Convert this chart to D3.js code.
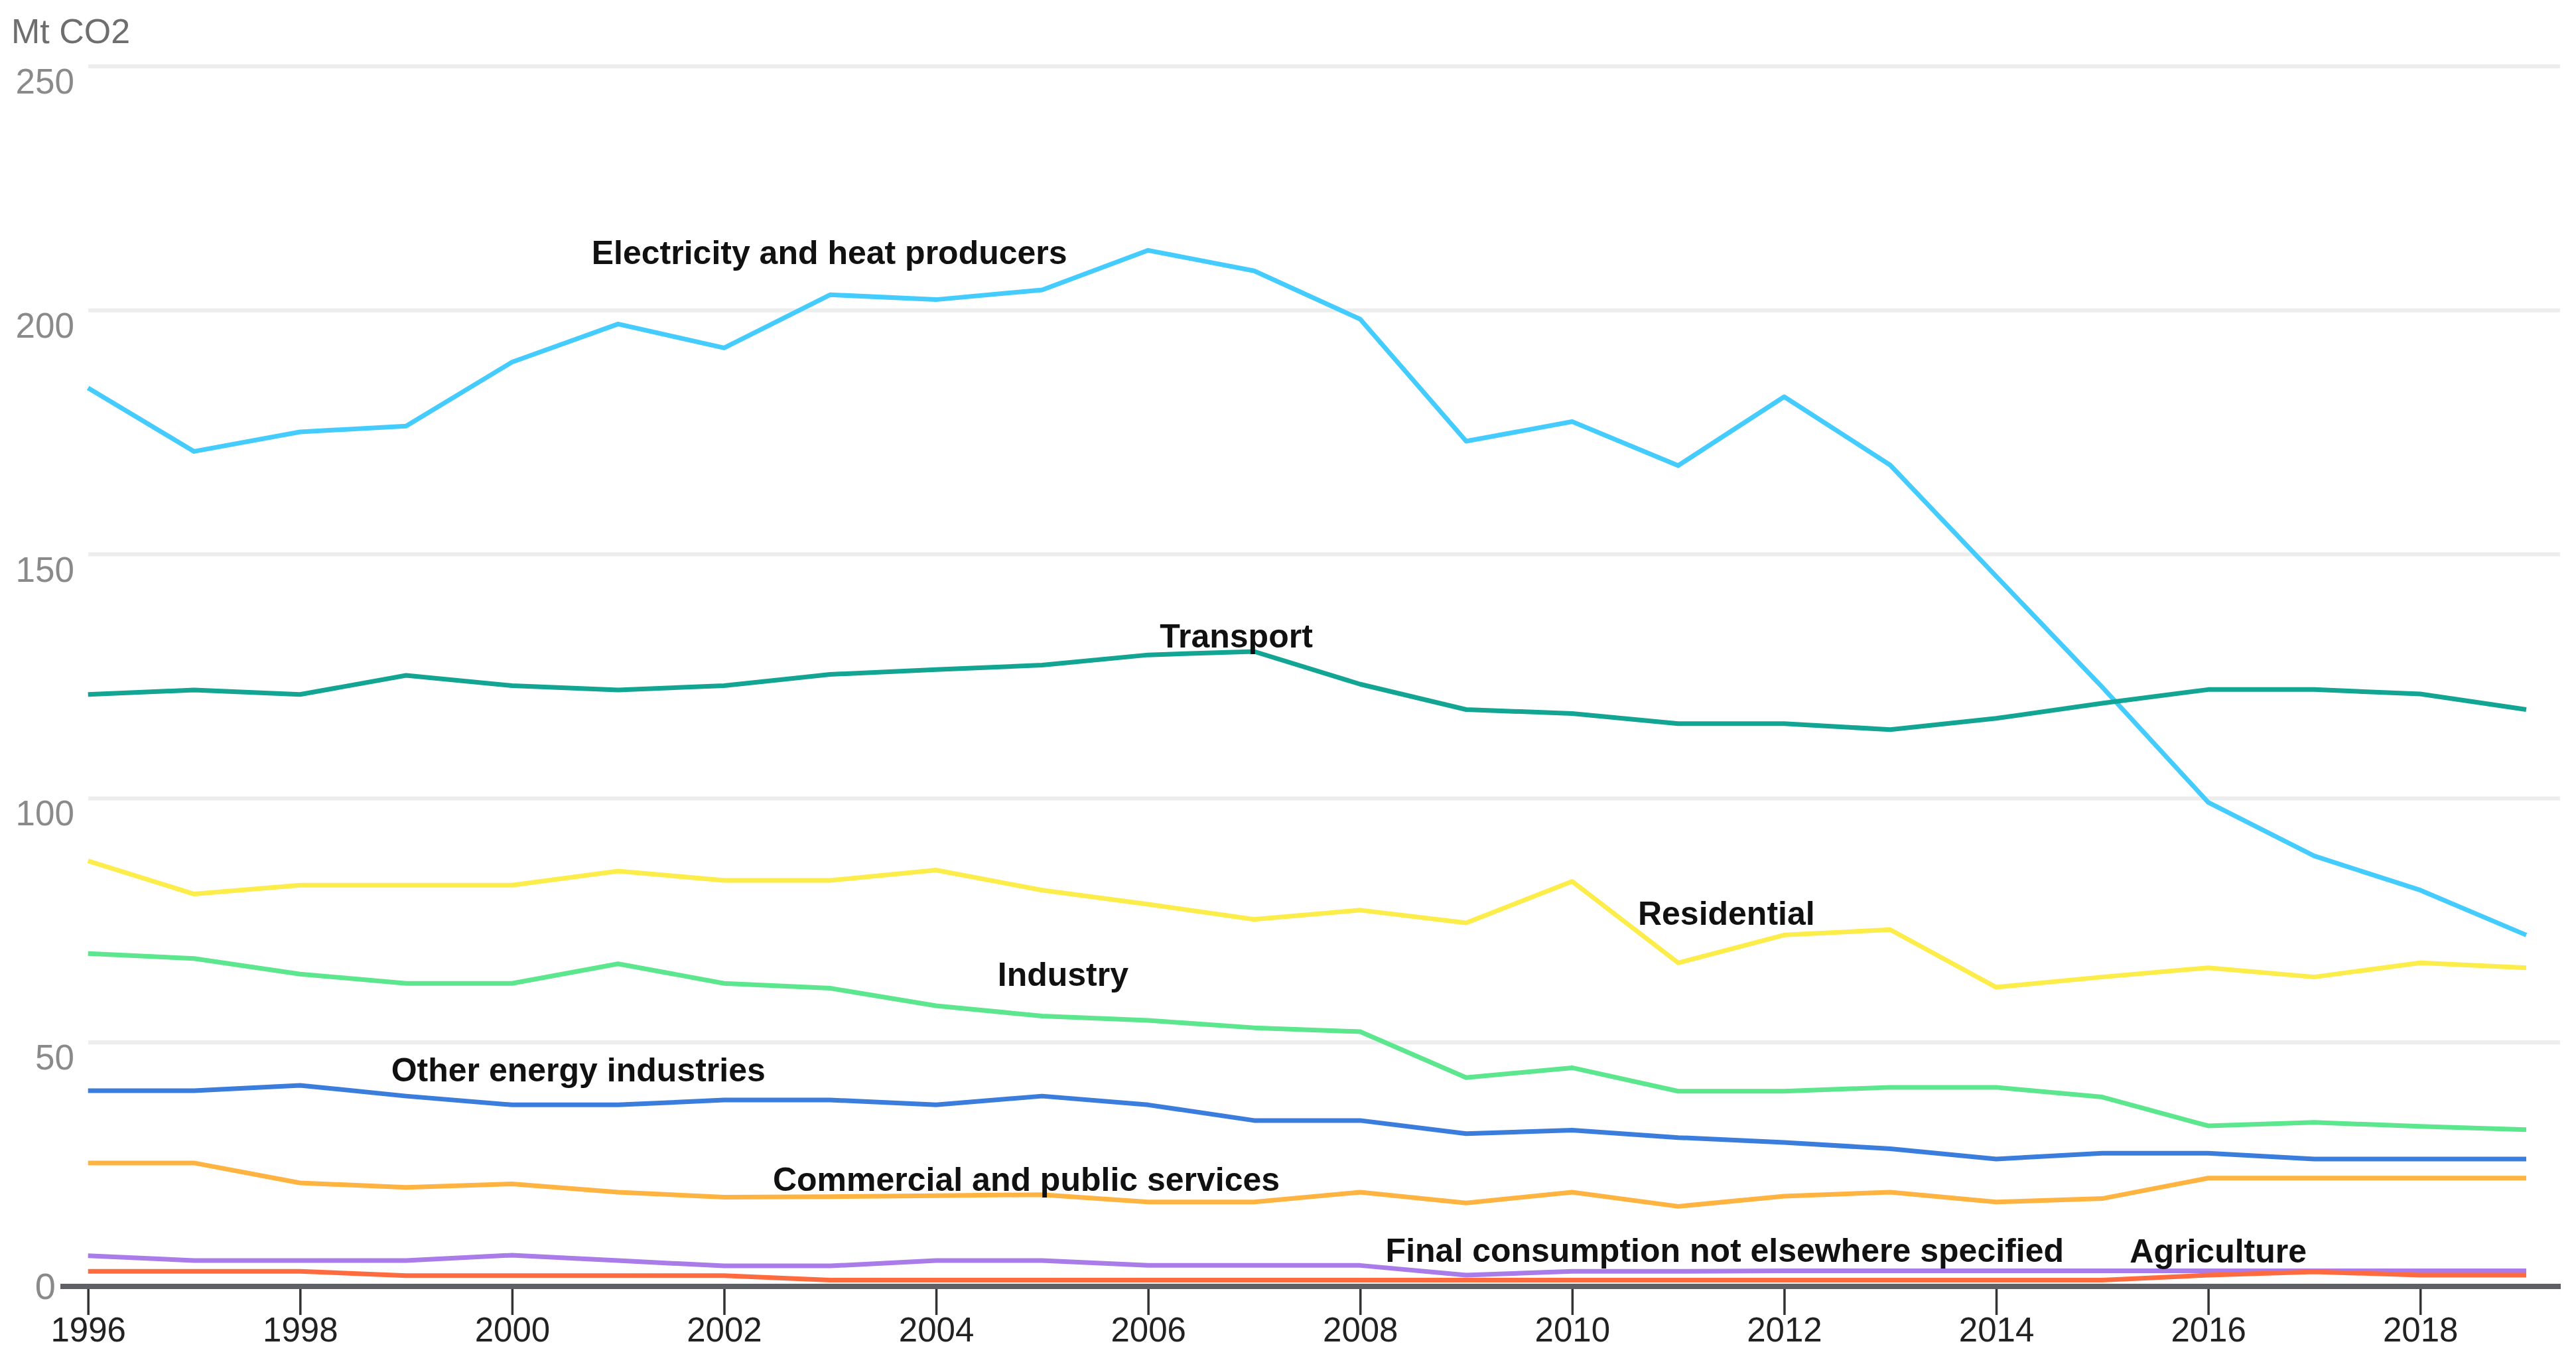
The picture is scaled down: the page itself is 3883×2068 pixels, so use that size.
<!DOCTYPE html>
<html lang="en">
<head>
    <meta charset="UTF-8">
    <title>CO2 emissions by sector</title>
    <style>
        body {
            margin: 0;
            padding: 0;
            background: #ffffff;
        }
        #chart svg {
            display: block;
        }
    </style>
</head>
<body>
    <div id="chart"></div>
    <script src="https://d3js.org/d3.v7.min.js"></script>
    <script>
        // Data
        const years = d3.range(1996, 2020);
        const yTicks = [0, 50, 100, 150, 200, 250];
        const xTicks = d3.range(1996, 2019, 2);

        const electricity = [184.1, 171.1, 175.1, 176.3, 189.4, 197.2, 192.3, 203.2, 202.2, 204.2, 212.3, 208.1,
                             198.2, 173.2, 177.2, 168.2, 182.3, 168.3, 145.5, 122.8, 99.2, 88.2, 81.2, 72.0];
        const transport = [121.3, 122.2, 121.3, 125.2, 123.1, 122.2, 123.1, 125.4, 126.4, 127.3, 129.4, 130.1,
                           123.4, 118.2, 117.4, 115.3, 115.3, 114.1, 116.4, 119.5, 122.3, 122.3, 121.4, 118.2];
        const residential = [87.2, 80.4, 82.2, 82.2, 82.2, 85.1, 83.2, 83.2, 85.3, 81.2, 78.3, 75.2,
                             77.1, 74.5, 83.0, 66.3, 72.0, 73.1, 61.3, 63.4, 65.3, 63.4, 66.3, 65.3];
        const industry = [68.2, 67.2, 64.0, 62.1, 62.1, 66.1, 62.1, 61.1, 57.5, 55.4, 54.5, 53.0,
                          52.2, 42.8, 44.8, 40.0, 40.0, 40.8, 40.8, 38.8, 32.9, 33.6, 32.8, 32.1];
        const otherEnergy = [40.1, 40.1, 41.2, 39.0, 37.2, 37.2, 38.2, 38.2, 37.2, 39.0, 37.2, 34.0,
                             34.0, 31.3, 32.0, 30.5, 29.5, 28.2, 26.1, 27.3, 27.3, 26.1, 26.1, 26.1];
        const commercial = [25.3, 25.3, 21.2, 20.3, 21.0, 19.3, 18.3, 18.4, 18.6, 18.8, 17.3, 17.3,
                            19.3, 17.1, 19.3, 16.4, 18.5, 19.3, 17.3, 18.0, 22.2, 22.2, 22.2, 22.2];
        const finalConsumption = [6.3, 5.3, 5.3, 5.3, 6.4, 5.3, 4.2, 4.2, 5.3, 5.3, 4.3, 4.3,
                                  4.3, 2.3, 3.1, 3.1, 3.2, 3.2, 3.2, 3.2, 3.2, 3.2, 3.2, 3.2];
        const agriculture = [3.1, 3.1, 3.1, 2.2, 2.2, 2.2, 2.2, 1.3, 1.3, 1.3, 1.3, 1.3,
                             1.3, 1.3, 1.3, 1.3, 1.3, 1.3, 1.3, 1.3, 2.3, 3.0, 2.3, 2.3];

        const seriesNames = ['Electricity and heat producers', 'Transport', 'Residential', 'Industry',
                             'Other energy industries', 'Commercial and public services',
                             'Final consumption not elsewhere specified', 'Agriculture'];
        const seriesValues = [electricity, transport, residential, industry,
                              otherEnergy, commercial, finalConsumption, agriculture];
        const seriesColors = ['#45ccff', '#13a594', '#fded4a', '#5ce68e',
                              '#3b7ddd', '#ffb340', '#a97ce9', '#ff6b3f'];
        // label anchor: [year, value] where the label's left baseline sits
        const labelYears = [2000.75, 2006.11, 2010.62, 2004.58, 1998.86, 2002.46, 2008.24, 2015.26];
        const labelValues = [209.5, 130.9, 74.1, 61.6, 42.0, 19.6, 5.0, 4.9];

        const width = 3883;
        const height = 2068;

        const x = d3.scaleLinear().domain([1996, 2019]).range([132.7, 3808]);
        const y = d3.scaleLinear().domain([0, 250]).range([1939, 100]);

        const svg = d3.select('#chart')
            .append('svg')
            .attr('width', width)
            .attr('height', height)
            .style('font-family', '"Liberation Sans", Arial, sans-serif');

        svg.append('rect')
            .attr('width', width)
            .attr('height', height)
            .attr('fill', '#ffffff');

        // Unit label
        svg.append('text')
            .attr('x', 17)
            .attr('y', 65)
            .attr('font-size', 52)
            .attr('fill', '#6e6e6e')
            .text('Mt CO2');

        // Gridlines
        svg.selectAll('.grid')
            .data(yTicks.filter(d => d > 0))
            .join('line')
            .attr('class', 'grid')
            .attr('x1', 133)
            .attr('x2', 3859)
            .attr('y1', d => y(d))
            .attr('y2', d => y(d))
            .attr('stroke', '#ededed')
            .attr('stroke-width', 6);

        // Y labels, hung just under each gridline (zero sits on the axis)
        svg.selectAll('.ylabel')
            .data(yTicks)
            .join('text')
            .attr('class', 'ylabel')
            .attr('x', d => d === 0 ? 84 : 112)
            .attr('y', d => d === 0 ? y(d) + 19 : y(d) + 41)
            .attr('text-anchor', 'end')
            .attr('font-size', d => d === 0 ? 56 : 53)
            .attr('fill', '#8a8a8a')
            .text(d => d);

        // Lines
        const line = d3.line()
            .x((d, i) => x(years[i]))
            .y(d => y(d));

        svg.selectAll('.series')
            .data(seriesValues)
            .join('path')
            .attr('class', 'series')
            .attr('fill', 'none')
            .attr('stroke', (d, i) => seriesColors[i])
            .attr('stroke-width', 7)
            .attr('stroke-linejoin', 'round')
            .attr('d', line);

        // X axis
        const xAxis = svg.append('g')
            .attr('transform', `translate(0,${y(0)})`)
            .call(d3.axisBottom(x)
                .tickValues(xTicks)
                .tickFormat(d3.format('d'))
                .tickSize(43)
                .tickPadding(4));
        xAxis.select('.domain').remove();
        xAxis.selectAll('.tick line')
            .attr('stroke', '#333333')
            .attr('stroke-width', 3.5);
        xAxis.selectAll('.tick text')
            .attr('font-family', '"Liberation Sans", Arial, sans-serif')
            .attr('font-size', 51)
            .attr('fill', '#222222');

        svg.append('line')
            .attr('x1', 91)
            .attr('x2', 3860)
            .attr('y1', y(0))
            .attr('y2', y(0))
            .attr('stroke', '#5d6166')
            .attr('stroke-width', 8);

        // Series labels
        svg.selectAll('.label')
            .data(seriesNames)
            .join('text')
            .attr('class', 'label')
            .attr('x', (d, i) => x(labelYears[i]))
            .attr('y', (d, i) => y(labelValues[i]))
            .attr('font-size', 50)
            .attr('font-weight', 'bold')
            .attr('fill', '#111111')
            .text(d => d);
    </script>
</body>
</html>
